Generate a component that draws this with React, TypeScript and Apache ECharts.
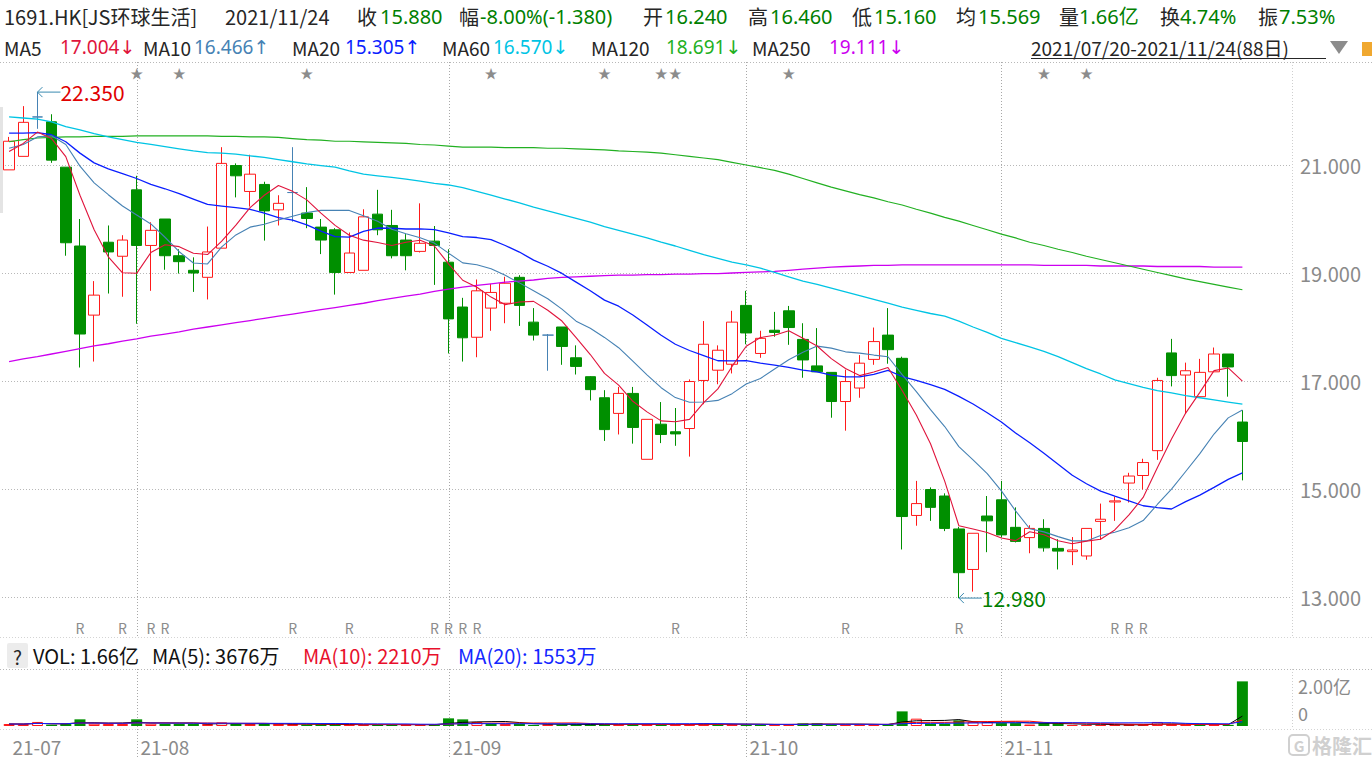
import React, { useEffect, useRef } from 'react';
import * as echarts from 'echarts';

// ---------- DATA ----------
const dates = [
  '07-20','07-21','07-22','07-23','07-26','07-27','07-28','07-29','07-30',
  '08-02','08-03','08-04','08-05','08-06','08-09','08-10','08-11','08-12','08-13',
  '08-16','08-17','08-18','08-19','08-20','08-23','08-24','08-25','08-26','08-27','08-30','08-31',
  '09-01','09-02','09-03','09-06','09-07','09-08','09-09','09-10','09-13','09-14','09-15','09-16','09-17',
  '09-20','09-21','09-23','09-24','09-27','09-28','09-29','09-30',
  '10-04','10-05','10-06','10-07','10-08','10-11','10-12','10-15','10-18','10-19','10-20','10-21','10-22',
  '10-25','10-26','10-27','10-28','10-29',
  '11-01','11-02','11-03','11-04','11-05','11-08','11-09','11-10','11-11','11-12',
  '11-15','11-16','11-17','11-18','11-19','11-22','11-23','11-24'
];
const opens = [20.91,21.16,21.89,21.80,20.96,19.50,18.22,19.57,19.31,20.54,19.51,20.00,19.32,19.05,18.92,19.46,20.99,20.51,20.64,20.17,20.49,20.11,19.85,19.80,19.01,19.05,20.09,19.88,19.61,19.40,19.59,19.20,18.37,17.81,18.35,18.44,18.92,18.09,17.85,18.00,17.43,17.08,16.69,16.40,16.77,15.55,16.20,16.06,16.12,17.01,17.20,17.31,18.40,17.51,17.94,18.30,17.77,17.28,17.16,16.62,16.87,17.40,17.85,17.42,14.51,14.99,14.87,14.26,13.51,14.50,14.80,14.29,14.10,14.27,13.90,13.84,13.76,14.40,14.76,15.11,15.25,15.71,17.52,17.11,16.71,17.17,17.50,16.24];
const closes = [21.44,21.79,21.89,21.09,19.56,17.87,18.59,19.39,19.61,19.51,19.79,19.32,19.21,19.00,19.39,21.03,20.80,20.83,20.15,20.29,20.49,20.01,19.61,19.01,19.37,20.04,19.80,19.32,19.32,19.55,19.51,18.15,17.80,18.67,18.64,18.81,18.40,17.85,17.85,17.64,17.27,16.84,16.10,16.77,16.14,16.29,16.01,16.02,16.99,17.68,17.57,18.09,17.89,17.79,17.90,17.99,17.39,17.17,16.62,16.99,17.33,17.73,17.58,14.49,14.73,14.66,14.27,13.45,14.18,14.41,14.15,14.03,14.27,13.91,13.85,13.87,14.27,14.44,14.78,15.24,15.49,17.01,17.10,17.19,17.16,17.50,17.26,15.88];
const lows = [20.91,21.16,21.67,21.04,19.32,17.25,17.36,18.62,18.56,18.06,18.67,19.06,18.99,18.65,18.51,19.46,20.40,20.23,19.60,19.88,19.95,19.83,19.35,18.60,19.01,19.05,19.70,19.27,19.05,19.38,18.78,17.51,17.36,17.44,17.93,18.07,18.02,17.75,17.19,17.30,17.12,16.64,15.89,16.01,15.84,15.55,15.85,15.80,15.60,16.57,16.94,17.14,17.68,17.43,17.82,17.67,17.06,17.17,16.32,16.08,16.69,17.30,17.32,13.88,14.32,14.41,14.22,12.98,13.10,13.83,14.10,14.01,13.81,13.84,13.51,13.59,13.69,14.06,14.41,14.75,14.99,15.54,16.90,16.39,16.71,17.17,16.71,15.16];
const highs = [21.52,22.09,22.35,21.94,20.96,20.00,18.85,19.88,19.70,20.80,19.94,20.00,19.44,19.29,19.86,21.33,21.03,21.19,20.69,20.44,21.33,20.59,20.00,19.83,19.75,20.18,20.54,20.17,19.72,20.29,19.87,19.44,18.54,18.88,18.80,18.93,18.96,18.35,17.87,18.00,17.66,17.09,16.83,16.89,16.89,16.29,16.61,16.50,17.03,18.11,17.66,18.30,18.67,17.93,18.28,18.39,18.07,17.98,17.16,17.21,17.48,17.99,18.35,17.45,15.15,15.03,14.92,14.30,14.18,14.87,15.15,14.66,14.33,14.44,14.07,14.11,14.27,14.73,14.86,15.30,15.56,17.06,17.78,17.34,17.41,17.62,17.50,16.46];
// volume in 万
const volumes = [740,700,1500,500,750,2480,860,740,740,2480,860,740,740,740,740,1360,740,740,740,740,740,500,500,500,500,500,500,500,500,500,400,2850,2470,1480,860,740,860,400,700,500,600,600,700,600,700,600,500,500,600,1000,600,700,500,500,500,500,1000,1000,500,500,500,600,500,5440,2720,860,860,2100,1500,1500,1100,1100,550,1100,900,400,400,410,450,560,560,1500,650,450,440,450,440,16600];

// MA values before enough history is inside the window
const ma5Head = [21.25,21.40,21.61,21.49];
const ma10Head = [21.31,21.38,21.52,21.54,21.38,20.98,20.67,20.45,20.24];
const ma20Head = [21.59,21.59,21.60,21.56,21.43,21.22,21.04,20.93,20.84,20.75,20.64,20.56,20.47,20.37,20.27,20.24,20.21,20.18,20.11];
const ma60 = [21.89,21.87,21.85,21.80,21.71,21.65,21.58,21.52,21.47,21.42,21.38,21.34,21.30,21.26,21.23,21.22,21.20,21.17,21.14,21.10,21.06,21.02,20.99,20.96,20.89,20.83,20.80,20.77,20.74,20.70,20.66,20.63,20.58,20.51,20.44,20.37,20.30,20.22,20.15,20.08,20.01,19.94,19.86,19.79,19.72,19.65,19.57,19.50,19.42,19.34,19.27,19.20,19.15,19.09,19.01,18.93,18.85,18.79,18.72,18.65,18.58,18.51,18.44,18.37,18.31,18.25,18.20,18.11,18.00,17.90,17.79,17.71,17.63,17.55,17.45,17.34,17.23,17.13,17.02,16.95,16.88,16.82,16.78,16.73,16.69,16.65,16.61,16.57];
const ma120 = [21.43,21.47,21.50,21.51,21.52,21.52,21.53,21.53,21.53,21.54,21.54,21.54,21.54,21.54,21.54,21.53,21.53,21.52,21.52,21.51,21.49,21.47,21.46,21.44,21.44,21.43,21.42,21.41,21.40,21.38,21.37,21.35,21.33,21.33,21.33,21.32,21.32,21.32,21.31,21.31,21.30,21.29,21.28,21.26,21.25,21.24,21.22,21.19,21.16,21.13,21.10,21.05,21.00,20.95,20.90,20.83,20.75,20.67,20.59,20.52,20.45,20.39,20.32,20.26,20.18,20.11,20.03,19.96,19.88,19.80,19.72,19.65,19.57,19.51,19.44,19.38,19.31,19.25,19.19,19.13,19.07,19.01,18.95,18.89,18.84,18.79,18.74,18.69];
const ma250 = [17.36,17.41,17.45,17.50,17.55,17.60,17.65,17.69,17.74,17.78,17.83,17.87,17.91,17.96,18.00,18.04,18.08,18.12,18.16,18.20,18.24,18.28,18.32,18.36,18.40,18.44,18.49,18.53,18.57,18.61,18.66,18.70,18.74,18.77,18.80,18.83,18.85,18.87,18.90,18.92,18.93,18.94,18.95,18.96,18.96,18.97,18.97,18.98,18.98,18.99,18.99,19.00,19.01,19.02,19.03,19.05,19.07,19.09,19.11,19.12,19.13,19.14,19.14,19.15,19.15,19.15,19.15,19.15,19.15,19.15,19.15,19.15,19.15,19.14,19.14,19.14,19.14,19.13,19.13,19.13,19.13,19.12,19.12,19.12,19.12,19.11,19.11,19.11];

const starDays = [9, 12, 21, 34, 42, 46, 47, 55, 73, 76];
const rDays = [5, 8, 10, 11, 20, 24, 30, 31, 32, 33, 47, 59, 67, 78, 79, 80];
const monthStarts = [0, 9, 31, 52, 70];
const monthLabels = ['21-07', '21-08', '21-09', '21-10', '21-11'];
const maxPoint = { day: 2, value: 22.35, label: '22.350' };
const minPoint = { day: 67, value: 12.98, label: '12.980' };

// ---------- STYLE ----------
const FONT = '"Noto Sans CJK SC", "Noto Sans", sans-serif';
const FONT_V = '"Noto Sans", "DejaVu Sans", "Noto Sans CJK SC", sans-serif';
const UP = '#ff1a1a';
const DOWN = '#008f00';
const DOJI = '#4682b4';
const DARK = '#262626';
const VALG = '#008000';
const C_MA5 = '#e0143c';
const C_MA10 = '#4682b4';
const C_MA20 = '#0a1eff';
const C_MA60 = '#00c4e4';
const C_MA120 = '#22b022';
const C_MA250 = '#cc00f0';
const GRID_LINE = '#b8b8b8';
const AXIS_TXT = '#8a8a8a';

function movingAvg(src: number[], n: number, head: number[] | null): number[] {
  return src.map((_, i) => {
    if (head && i < head.length) return head[i];
    const from = Math.max(0, i - n + 1);
    const win = src.slice(from, i + 1);
    return +(win.reduce((a, b) => a + b, 0) / win.length).toFixed(3);
  });
}

function txt(text: string, x: number, y: number, fill: string, size: number, align = 'left', extra: any = {}, family = FONT) {
  return {
    type: 'text', x, y, z: 100, silent: true,
    style: {
      text, fill, fontSize: size, fontFamily: family,
      textAlign: align, textVerticalAlign: 'middle', align, verticalAlign: 'middle', ...extra,
    },
  };
}
function ln(x1: number, y1: number, x2: number, y2: number, stroke: string, dash: number[] | null = [1, 2], w = 1) {
  return {
    type: 'line', z: 1, silent: true,
    shape: { x1, y1, x2, y2 },
    style: { stroke, lineWidth: w, lineDash: dash || undefined },
  };
}

export default function App() {
  const ref = useRef<HTMLDivElement>(null);

  useEffect(() => {
    if (!ref.current) return;
    const chart = echarts.init(ref.current, null, { renderer: 'svg' });
    const cats = [...dates, 'p1', 'p2', 'p3'];

    const ma5 = movingAvg(closes, 5, ma5Head);
    const ma10 = movingAvg(closes, 10, ma10Head);
    const ma20 = movingAvg(closes, 20, ma20Head);
    const vma5 = movingAvg(volumes, 5, null);
    const vma10 = movingAvg(volumes, 10, null);
    const vma20 = movingAvg(volumes, 20, null);

    const candleData = dates.map((_, i) => {
      const v = [opens[i], closes[i], lows[i], highs[i]];
      if (opens[i] === closes[i]) {
        return {
          value: v,
          itemStyle: { color: DOJI, color0: DOJI, borderColor: DOJI, borderColor0: DOJI, borderColorDoji: DOJI },
        };
      }
      return v;
    });
    const volData = volumes.map((v, i) => {
      const prev = i === 0 ? closes[0] - 1 : closes[i - 1];
      const up = closes[i] >= prev;
      return {
        value: v,
        itemStyle: up
          ? { color: '#ffffff', borderColor: UP, borderWidth: 1 }
          : { color: DOWN, borderColor: DOWN, borderWidth: 0 },
      };
    });

    const lineS = (name: string, data: number[], color: string, x = 0, w = 1) => ({
      name, type: 'line', data, xAxisIndex: x, yAxisIndex: x, symbol: 'none', clip: false,
      lineStyle: { color, width: w }, z: 5, silent: true,
    });

    const axisX = (gi: number) => ({
      type: 'category', data: cats, gridIndex: gi, boundaryGap: true,
      axisLine: { show: false }, axisTick: { show: false }, axisLabel: { show: false }, splitLine: { show: false },
    });

    chart.setOption({
      animation: false,
      textStyle: { fontFamily: FONT },
      grid: [
        { left: 2, width: 1290, top: 165, height: 432 },
        { left: 2, width: 1290, top: 669, height: 57 },
      ],
      xAxis: [axisX(0), axisX(1)],
      yAxis: [
        {
          type: 'value', gridIndex: 0, min: 13, max: 21, interval: 2, position: 'right',
          axisLine: { show: false }, axisTick: { show: false },
          axisLabel: { margin: 8, color: AXIS_TXT, fontSize: 20, fontFamily: FONT, formatter: (v: number) => v.toFixed(3) },
          splitLine: { lineStyle: { color: GRID_LINE, type: [1, 2], width: 1 } },
        },
        {
          type: 'value', gridIndex: 1, min: 0, max: 21200,
          axisLine: { show: false }, axisTick: { show: false }, axisLabel: { show: false }, splitLine: { show: false },
        },
      ],
      series: [
        {
          type: 'candlestick', data: candleData, xAxisIndex: 0, yAxisIndex: 0, barWidth: 11, clip: false, z: 3,
          itemStyle: { color: 'rgba(255,255,255,0)', color0: DOWN, borderColor: UP, borderColor0: DOWN, borderWidth: 1 },
        },
        lineS('MA250', ma250, C_MA250, 0, 1.3),
        lineS('MA120', ma120, C_MA120, 0, 1.2),
        lineS('MA60', ma60, C_MA60, 0, 1.3),
        lineS('MA20', ma20, C_MA20, 0, 1.3),
        lineS('MA10', ma10, C_MA10, 0, 1.1),
        lineS('MA5', ma5, C_MA5, 0, 1.1),
        { type: 'bar', data: volData, xAxisIndex: 1, yAxisIndex: 1, barWidth: 11, z: 3 },
        lineS('VMA5', vma5, '#000000', 1, 1),
        lineS('VMA10', vma10, '#ff0000', 1, 1),
        lineS('VMA20', vma20, '#0a1eff', 1, 1),
      ],
    });

    const px = (i: number, v: number) => chart.convertToPixel({ gridIndex: 0 }, [i, v]) as number[];
    const xOf = (i: number) => px(i, 17)[0];

    const g: any[] = [];
    // frame lines
    g.push(ln(0, 62.5, 1372, 62.5, GRID_LINE));
    g.push(ln(0, 637.5, 1372, 637.5, '#d4d4d4'));
    g.push(ln(0, 669.5, 1372, 669.5, GRID_LINE));
    g.push(ln(0, 729.5, 1372, 729.5, '#d4d4d4'));
    g.push(ln(1292.5, 62, 1292.5, 637, '#cfcfcf'));
    g.push(ln(1292.5, 669, 1292.5, 729, '#cfcfcf'));
    g.push({ type: 'rect', shape: { x: 0, y: 107, width: 3, height: 106 }, style: { fill: '#e4e4e4' }, silent: true });

    // month lines & labels
    monthStarts.forEach((d, k) => {
      const x = Math.round(xOf(d)) + 0.5;
      if (k > 0) {
        g.push(ln(x, 62, x, 637, '#a8a8a8'));
        g.push(ln(x, 669, x, 759, '#a8a8a8'));
      }
      g.push(txt(monthLabels[k], x + 3, 746, AXIS_TXT, 19));
    });

    // stars and R marks
    starDays.forEach((d) => g.push(txt('★', xOf(d), 72, '#8c8c8c', 13, 'center')));
    rDays.forEach((d) => g.push(txt('R', xOf(d), 628, '#8c8c8c', 14, 'center')));

    // max / min markers
    const marker = (p: any, color: string) => {
      const [x, y] = px(p.day, p.value);
      g.push({ type: 'polyline', z: 90, silent: true, shape: { points: [[x + 23, y], [x, y]] }, style: { stroke: '#3a8ab0', lineWidth: 1, fill: 'none' } });
      g.push({ type: 'polyline', z: 90, silent: true, shape: { points: [[x + 5, y - 5], [x, y], [x + 5, y + 5]] }, style: { stroke: '#3a8ab0', lineWidth: 1, fill: 'none' } });
      g.push(txt(p.label, x + 23, y, color, 21));
    };
    marker(maxPoint, '#e00000');
    marker(minPoint, '#008000');

    // header line 1
    const h1: [string, number, string, boolean][] = [
      ['1691.HK[JS环球生活]', 4, DARK, false], ['2021/11/24', 225, DARK, false], ['收', 357, DARK, false], ['15.880', 380, VALG, true],
      ['幅', 459, DARK, false], ['-8.00%(-1.380)', 480, VALG, true], ['开', 643, DARK, false], ['16.240', 665, VALG, true],
      ['高', 748, DARK, false], ['16.460', 770, VALG, true], ['低', 852, DARK, false], ['15.160', 874, VALG, true],
      ['均', 956, DARK, false], ['15.569', 978, VALG, true], ['量', 1059, DARK, false], ['1.66亿', 1079, VALG, true],
      ['换', 1160, DARK, false], ['4.74%', 1180, VALG, true], ['振', 1258, DARK, false], ['7.53%', 1279, VALG, true],
    ];
    h1.forEach(([t, x, c, v]) => g.push(txt(t, x, 16, c, 20, 'left', {}, v ? FONT_V : FONT)));
    // header line 2
    const h2: [string, number, string, boolean][] = [
      ['MA5', 4, DARK, false], ['17.004↓', 60, C_MA5, true], ['MA10', 143, DARK, false], ['16.466↑', 194, C_MA10, true],
      ['MA20', 292, DARK, false], ['15.305↑', 345, C_MA20, true], ['MA60', 442, DARK, false], ['16.570↓', 493, C_MA60, true],
      ['MA120', 591, DARK, false], ['18.691↓', 666, C_MA120, true], ['MA250', 752, DARK, false], ['19.111↓', 829, C_MA250, true],
      ['2021/07/20-2021/11/24(88日)', 1031, DARK, false],
    ];
    h2.forEach(([t, x, c, v]) => g.push(txt(t, x, 47, c, 19, 'left', {}, v ? FONT_V : FONT)));
    g.push(ln(1031, 58.5, 1326, 58.5, DARK, null, 1));
    g.push({ type: 'polygon', silent: true, shape: { points: [[1330, 41], [1348, 41], [1339, 54]] }, style: { fill: '#8c8c8c' } });
    g.push({ type: 'rect', silent: true, shape: { x: 1362, y: 42, width: 10, height: 14 }, style: { fill: '#f0a830' } });

    // volume legend
    g.push({ type: 'rect', silent: true, shape: { x: 7, y: 643, width: 21, height: 25, r: 2 }, style: { fill: '#ececec' } });
    g.push(txt('?', 17.5, 656, DARK, 19, 'center'));
    g.push(txt('VOL: 1.66亿', 33, 655, '#111111', 20));
    g.push(txt('MA(5): 3676万', 152, 655, '#111111', 20));
    g.push(txt('MA(10): 2210万', 303, 655, '#e8102c', 20));
    g.push(txt('MA(20): 1553万', 458, 655, '#1428ff', 20));
    g.push(txt('2.00亿', 1298, 686, AXIS_TXT, 18));
    g.push(txt('0', 1298, 713, AXIS_TXT, 18));

    // watermark
    g.push({ type: 'rect', silent: true, shape: { x: 1289, y: 735, width: 20, height: 20, r: 4 }, style: { fill: 'none', stroke: '#d0d0d0', lineWidth: 2 } });
    g.push(txt('G', 1299, 745, '#d0d0d0', 15, 'center', { fontWeight: 'bold' }));
    g.push(txt('格隆汇', 1312, 745, '#d0d0d0', 20, 'left', { fontWeight: 'bold' }));

    chart.setOption({ graphic: g });

    return () => chart.dispose();
  }, []);

  return (
    <div
      ref={ref}
      style={{ position: 'fixed', left: 0, top: 0, width: 1372, height: 759, background: '#ffffff' }}
    />
  );
}
